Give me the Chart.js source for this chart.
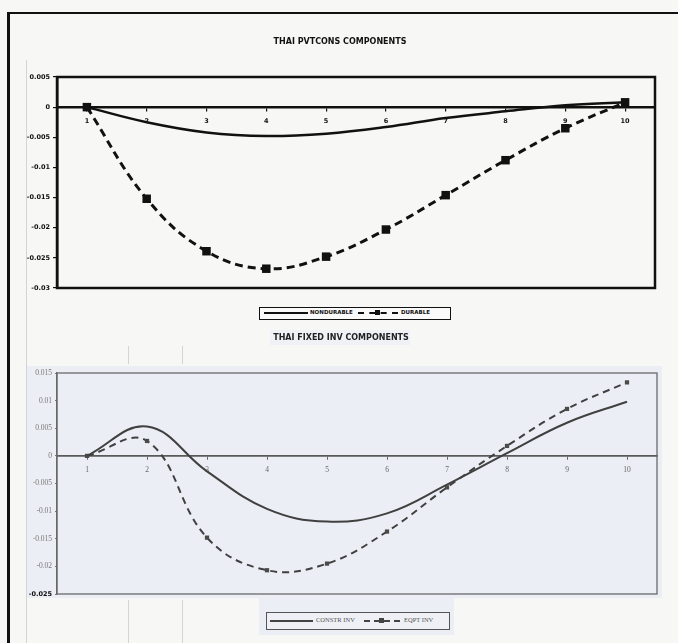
<!DOCTYPE html>
<html>
<head>
<meta charset="utf-8">
<script src="https://cdn.jsdelivr.net/npm/chart.js@4.4.1/dist/chart.umd.min.js"></script>
<style>
  html, body { margin: 0; padding: 0; }
  body {
    width: 678px; height: 643px; position: relative; overflow: hidden;
    background: #f7f7f5; font-family: "DejaVu Sans", sans-serif;
  }
  .rule { position: absolute; background: #111; }
  .faint { position: absolute; background: #d4d4d2; width: 1px; }
  canvas { position: absolute; left: 0; }
  #c1 { top: 0; }
  #c2 { top: 322px; }
  .legend { position: absolute; box-sizing: border-box; }
  .legend .txt { position: absolute; white-space: nowrap; }
  .sq { position: absolute; }
  #leg2bg { position: absolute; left: 259px; top: 596px; width: 195px; height: 39px; background: #eceef5; }
</style>
</head>
<body>
<div class="faint" style="left:26px; top:60px; height:583px;"></div>
<div class="faint" style="left:128px; top:600px; height:43px;"></div>
<div class="faint" style="left:182px; top:600px; height:43px;"></div>
<div class="faint" style="left:128px; top:346px; height:18px;"></div>
<div class="faint" style="left:182px; top:346px; height:18px;"></div>
<div class="rule" style="left:7px; top:12px; width:671px; height:2px;"></div>
<div class="rule" style="left:7px; top:12px; width:3px; height:631px;"></div>

<canvas id="c1" width="678" height="300"></canvas>
<canvas id="c2" width="678" height="290"></canvas>

<!-- legend of the consumption chart -->
<div class="legend" style="left:259px; top:307px; width:192px; height:13px; border:1.5px solid #111; background:#fafafa;">
  <div style="position:absolute; left:4px; top:4px; width:44px; height:2px; background:#111;"></div>
  <div class="txt" style="left:50px; top:1px; font:bold 5.5px 'DejaVu Sans'; color:#111;">NONDURABLE</div>
  <div style="position:absolute; left:98px; top:4px; width:40px; height:0; border-top:2px dashed #111;"></div>
  <div class="sq" style="left:115px; top:2px; width:5px; height:5px; background:#111;"></div>
  <div class="txt" style="left:141px; top:1px; font:bold 5.5px 'DejaVu Sans'; color:#111;">DURABLE</div>
</div>

<!-- legend of the fixed investment chart -->
<div id="leg2bg"></div>
<div class="legend" style="left:266px; top:612px; width:184px; height:18px; border:1.5px solid #555; background:#eef0f6;">
  <div style="position:absolute; left:3px; top:6.5px; width:43px; height:2px; background:#444;"></div>
  <div class="txt" style="left:49px; top:3px; font:6.5px 'Liberation Serif'; color:#555;">CONSTR INV</div>
  <div style="position:absolute; left:97px; top:6.5px; width:36px; height:0; border-top:2px dashed #444;"></div>
  <div class="sq" style="left:112px; top:5px; width:5px; height:5px; background:#444;"></div>
  <div class="txt" style="left:137px; top:3px; font:6.5px 'Liberation Serif'; color:#555;">EQPT INV</div>
</div>

<script>
// Horizon periods shared by both panels
const categories = ['1', '2', '3', '4', '5', '6', '7', '8', '9', '10'];

// Private consumption components
const nondurable = [0, -0.0025, -0.0042, -0.0048, -0.0044, -0.0033, -0.0018, -0.0007, 0.0003, 0.0008];
const durable    = [0, -0.0152, -0.0239, -0.0268, -0.0248, -0.0203, -0.0146, -0.0088, -0.0035, 0.0008];
const pvtTicks   = [0.005, 0, -0.005, -0.01, -0.015, -0.02, -0.025, -0.03];

// Fixed investment components
const constrInv = [0, 0.0053, -0.0028, -0.0096, -0.0119, -0.0104, -0.0052, 0.0005, 0.006, 0.0098];
const eqptInv   = [0, 0.0027, -0.0148, -0.0207, -0.0195, -0.0137, -0.0057, 0.0018, 0.0085, 0.0133];
const invTicks  = [0.015, 0.01, 0.005, 0, -0.005, -0.01, -0.015, -0.02, -0.025];

const fmt = v => (Math.abs(v) < 1e-12 ? '0' : String(+v.toFixed(3)));

// Black frame around the consumption plot area
const frameBlack = {
  id: 'frameBlack',
  afterDraw(chart) {
    const a = chart.chartArea, ctx = chart.ctx;
    ctx.save();
    ctx.strokeStyle = '#111';
    ctx.lineWidth = 2.5;
    ctx.strokeRect(a.left, a.top, a.right - a.left, a.bottom - a.top);
    ctx.restore();
  }
};

// Lavender panel, title strip and grey frame for the investment chart
const panelInv = {
  id: 'panelInv',
  beforeDraw(chart) {
    const ctx = chart.ctx;
    ctx.save();
    ctx.fillStyle = '#f0f1f6';
    ctx.fillRect(270, 8, 140, 15);
    ctx.fillStyle = '#eceef5';
    ctx.fillRect(27, 44, 635, 232);
    ctx.restore();
  },
  afterDraw(chart) {
    const a = chart.chartArea, ctx = chart.ctx;
    ctx.save();
    ctx.strokeStyle = '#6a6a6a';
    ctx.lineWidth = 1.3;
    ctx.strokeRect(a.left, a.top, a.right - a.left, a.bottom - a.top);
    ctx.restore();
  }
};

new Chart(document.getElementById('c1'), {
  type: 'line',
  data: {
    labels: categories,
    datasets: [
      {
        label: 'NONDURABLE', data: nondurable,
        borderColor: '#111', borderWidth: 2.5, pointRadius: 0,
        tension: 0.4, fill: false
      },
      {
        label: 'DURABLE', data: durable,
        borderColor: '#111', borderWidth: 3, borderDash: [8, 5],
        pointStyle: 'rect', pointRadius: 6, pointBackgroundColor: '#111',
        pointBorderColor: '#111', pointBorderWidth: 0,
        tension: 0.4, fill: false
      }
    ]
  },
  options: {
    responsive: false, animation: false, devicePixelRatio: 1,
    layout: { padding: { left: 25, right: 23, top: 0, bottom: 12 } },
    plugins: {
      legend: { display: false },
      tooltip: { enabled: false },
      title: {
        display: true, text: 'THAI PVTCONS COMPONENTS', color: '#111',
        font: { family: 'DejaVu Sans', size: 8, weight: 'bold', lineHeight: 1.2 },
        padding: { top: 37.2, bottom: 30.2 }
      }
    },
    scales: {
      x: {
        type: 'category', position: { y: 0 }, offset: true,
        grid: { display: true, drawOnChartArea: false, drawTicks: true, tickLength: 3, color: '#111', lineWidth: 1.2 },
        border: { display: true, color: '#111', width: 2.5 },
        ticks: { color: '#111', font: { family: 'DejaVu Sans', size: 6.5, weight: 'bold' }, padding: 7, maxRotation: 0, autoSkip: false }
      },
      y: {
        min: -0.03, max: 0.005,
        afterBuildTicks: s => { s.ticks = pvtTicks.map(v => ({ value: v })); },
        afterFit: s => { s.width = 32; },
        grid: { drawOnChartArea: false, drawTicks: true, tickLength: 4, color: '#111', lineWidth: 1.2 },
        border: { display: true, color: '#111', width: 2.5 },
        ticks: { color: '#111', font: { family: 'DejaVu Sans', size: 6.5, weight: 'bold' }, padding: 3, callback: fmt }
      }
    }
  },
  plugins: [frameBlack]
});

new Chart(document.getElementById('c2'), {
  type: 'line',
  data: {
    labels: categories,
    datasets: [
      {
        label: 'CONSTR INV', data: constrInv,
        borderColor: '#404040', borderWidth: 2, pointRadius: 0,
        tension: 0.4, fill: false
      },
      {
        label: 'EQPT INV', data: eqptInv,
        borderColor: '#404040', borderWidth: 2, borderDash: [7, 5],
        pointStyle: 'rect', pointRadius: 3, pointBackgroundColor: '#4a4a4a',
        pointBorderColor: '#4a4a4a', pointBorderWidth: 0,
        tension: 0.4, fill: false
      }
    ]
  },
  options: {
    responsive: false, animation: false, devicePixelRatio: 1,
    layout: { padding: { left: 25, right: 21, top: 0, bottom: 18 } },
    plugins: {
      legend: { display: false },
      tooltip: { enabled: false },
      title: {
        display: true, text: 'THAI FIXED INV COMPONENTS', color: '#222',
        font: { family: 'DejaVu Sans', size: 8, weight: 'bold', lineHeight: 1.2 },
        padding: { top: 11.2, bottom: 30.2 }
      }
    },
    scales: {
      x: {
        type: 'category', position: { y: 0 }, offset: true,
        grid: { display: true, drawOnChartArea: false, drawTicks: true, tickLength: 3, color: '#666', lineWidth: 1 },
        border: { display: true, color: '#5a5a5a', width: 1.8 },
        ticks: { color: '#666', font: { family: 'Liberation Serif', size: 7.5 }, padding: 7, maxRotation: 0, autoSkip: false }
      },
      y: {
        min: -0.025, max: 0.015,
        afterBuildTicks: s => { s.ticks = invTicks.map(v => ({ value: v })); },
        afterFit: s => { s.width = 32; },
        grid: { drawOnChartArea: false, drawTicks: true, tickLength: 2, color: '#777', lineWidth: 1 },
        border: { display: true, color: '#6a6a6a', width: 1.3 },
        ticks: {
          padding: 3, callback: fmt,
          color: ctx => (ctx.tick && ctx.tick.value === -0.025 ? '#111' : '#777'),
          font: ctx => (ctx.tick && ctx.tick.value === -0.025
            ? { family: 'DejaVu Sans', size: 6.5, weight: 'bold' }
            : { family: 'Liberation Serif', size: 7.5 })
        }
      }
    }
  },
  plugins: [panelInv]
});
</script>
</body>
</html>
